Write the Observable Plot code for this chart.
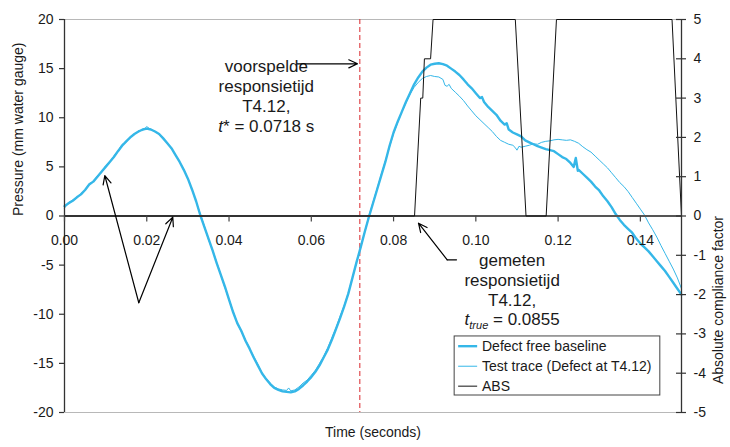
<!DOCTYPE html>
<html>
<head>
<meta charset="utf-8">
<script src="https://cdn.jsdelivr.net/npm/d3@7"></script>
<script src="https://cdn.jsdelivr.net/npm/@observablehq/plot@0.6"></script>
<style>
  html, body { margin: 0; padding: 0; background: #fff; }
  #chart svg { display: block; }
</style>
</head>
<body>
<div id="chart"></div>
<script>
// ---------------- DATA ----------------
const seriesNames = ["Defect free baseline", "Test trace (Defect at T4.12)", "ABS"];

// [time (s), pressure (mm water gauge)]
const baseline = [
  [0.000,1.0],[0.001,1.3],[0.002,1.55],[0.003,1.9],[0.004,2.2],[0.005,2.65],[0.006,3.2],[0.007,3.5],[0.008,4.0],[0.009,4.5],
  [0.010,5.0],[0.011,5.5],[0.012,6.0],[0.013,6.6],[0.014,7.15],[0.015,7.6],[0.016,8.0],[0.017,8.35],[0.018,8.6],[0.019,8.8],
  [0.020,8.9],[0.021,8.8],[0.022,8.6],[0.023,8.35],[0.024,7.9],[0.025,7.4],[0.026,6.9],[0.027,6.2],[0.028,5.5],[0.029,4.7],
  [0.030,3.8],[0.031,2.7],[0.032,1.5],[0.033,0.1],[0.034,-1.1],[0.035,-2.3],[0.036,-3.5],[0.037,-4.8],[0.038,-6.0],[0.039,-7.2],
  [0.040,-8.5],[0.041,-9.8],[0.042,-10.9],[0.043,-11.7],[0.044,-12.7],[0.045,-13.5],[0.046,-14.4],[0.047,-15.2],[0.048,-16.0],[0.049,-16.6],
  [0.050,-17.1],[0.051,-17.5],[0.052,-17.7],[0.053,-17.85],[0.054,-17.9],[0.055,-17.95],[0.056,-17.85],[0.057,-17.6],[0.058,-17.25],[0.059,-16.85],
  [0.060,-16.4],[0.061,-15.85],[0.062,-15.2],[0.063,-14.4],[0.064,-13.6],[0.065,-12.6],[0.066,-11.5],[0.067,-10.4],[0.068,-9.2],[0.069,-7.9],
  [0.070,-6.3],[0.071,-4.7],[0.072,-3.2],[0.073,-1.6],[0.074,-0.1],[0.075,1.3],[0.076,2.7],[0.077,4.1],[0.078,5.5],[0.079,7.1],
  [0.080,8.5],[0.081,9.6],[0.082,10.6],[0.083,11.6],[0.084,12.5],[0.085,13.4],[0.086,14.1],[0.087,14.7],[0.088,15.1],[0.089,15.4],
  [0.090,15.5],[0.091,15.55],[0.092,15.45],[0.093,15.3],[0.094,15.0],[0.095,14.7],[0.096,14.35],[0.097,13.9],[0.098,13.4],[0.099,13.0],
  [0.100,12.5],[0.101,12.0],[0.1015,12.1],[0.102,11.6],[0.103,11.1],[0.104,10.7],[0.105,10.3],[0.106,9.7],[0.107,9.3],[0.1075,9.45],
  [0.108,8.8],[0.109,8.5],[0.110,8.3],[0.111,8.1],[0.112,7.7],[0.113,7.5],[0.114,7.3],[0.115,7.1],[0.116,6.95],[0.117,6.8],
  [0.118,6.7],[0.119,6.6],[0.120,6.3],[0.121,6.0],[0.122,5.8],[0.123,5.4],[0.1238,5.0],[0.1243,5.9],[0.1248,4.6],[0.125,4.7],
  [0.126,4.3],[0.127,3.9],[0.128,3.5],[0.129,3.0],[0.130,2.6],[0.131,2.0],[0.132,1.5],[0.133,0.9],[0.134,0.2],[0.135,-0.4],
  [0.136,-0.9],[0.137,-1.3],[0.138,-1.7],[0.139,-2.3],[0.140,-2.8],[0.141,-3.2],[0.142,-3.6],[0.143,-4.1],[0.144,-4.6],[0.145,-5.1],
  [0.146,-5.6],[0.147,-6.2],[0.148,-6.8],[0.149,-7.4],[0.150,-8.0]
];

const testTrace = [
  [0.000,0.8],[0.001,1.4],[0.002,1.6],[0.003,1.8],[0.004,2.3],[0.005,2.6],[0.006,3.3],[0.007,3.5],[0.008,4.1],[0.009,4.4],
  [0.010,5.1],[0.011,5.5],[0.012,6.1],[0.013,6.6],[0.014,7.3],[0.015,7.5],[0.016,8.1],[0.017,8.3],[0.018,8.7],[0.019,8.7],
  [0.020,9.1],[0.021,8.8],[0.022,8.6],[0.023,8.3],[0.024,7.95],[0.025,7.4],[0.026,6.85],[0.027,6.2],[0.028,5.5],[0.029,4.75],
  [0.030,3.8],[0.031,2.7],[0.032,1.5],[0.033,0.2],[0.034,-1.0],[0.035,-2.4],[0.036,-3.5],[0.037,-4.7],[0.038,-6.0],[0.039,-7.3],
  [0.040,-8.5],[0.041,-9.7],[0.042,-10.9],[0.043,-11.8],[0.044,-12.6],[0.045,-13.5],[0.046,-14.3],[0.047,-15.1],[0.048,-16.0],[0.049,-16.5],
  [0.050,-17.0],[0.051,-17.4],[0.052,-17.6],[0.053,-17.7],[0.054,-17.75],[0.0545,-17.5],[0.055,-17.8],[0.056,-17.7],[0.057,-17.4],[0.058,-17.0],
  [0.059,-16.7],[0.060,-16.2],[0.061,-15.7],[0.062,-15.0],[0.063,-14.3],[0.064,-13.4],[0.065,-12.4],[0.066,-11.4],[0.067,-10.2],[0.068,-9.1],
  [0.069,-7.8],[0.070,-6.3],[0.071,-4.7],[0.072,-3.2],[0.073,-1.6],[0.074,0.0],[0.075,1.4],[0.076,2.8],[0.077,4.2],[0.078,5.6],
  [0.079,7.0],[0.080,8.4],[0.081,9.5],[0.082,10.6],[0.083,11.5],[0.084,12.4],[0.085,13.1],[0.086,13.6],[0.087,14.0],[0.088,14.2],
  [0.089,14.3],[0.090,14.2],[0.091,14.15],[0.092,13.9],[0.0925,13.3],[0.093,13.2],[0.0935,13.4],[0.094,13.0],[0.095,12.6],[0.096,12.2],
  [0.097,11.75],[0.098,11.2],[0.099,10.7],[0.100,10.2],[0.101,9.8],[0.102,9.4],[0.103,9.0],[0.104,8.6],[0.105,8.1],[0.106,7.7],
  [0.107,7.5],[0.108,7.3],[0.109,7.2],[0.1095,7.0],[0.110,6.7],[0.1105,7.1],[0.111,7.0],[0.112,7.1],[0.113,7.2],[0.114,7.35],
  [0.115,7.3],[0.116,7.5],[0.117,7.6],[0.118,7.65],[0.119,7.75],[0.120,7.8],[0.121,7.75],[0.122,7.7],[0.123,7.75],[0.124,7.6],
  [0.125,7.4],[0.126,7.05],[0.127,6.75],[0.128,6.5],[0.129,6.1],[0.130,5.7],[0.131,5.3],[0.132,4.9],[0.133,4.4],[0.134,3.9],
  [0.135,3.4],[0.136,3.0],[0.137,2.5],[0.138,1.9],[0.139,1.3],[0.140,0.7],[0.141,0.1],[0.142,-0.7],[0.143,-1.4],[0.144,-2.15],
  [0.145,-3.0],[0.146,-3.8],[0.147,-4.6],[0.148,-5.4],[0.149,-6.3],[0.150,-7.4]
];

// [time (s), absolute compliance factor] (right axis)
const absFactor = [
  [0.000,0],[0.0851,0],[0.0866,3],[0.0871,3],[0.0875,4],[0.0890,4],[0.0896,5],
  [0.1096,5],[0.1122,0],[0.1171,0],[0.1196,5],[0.1477,5],[0.1500,0]
];

const xTicks = [0.00, 0.02, 0.04, 0.06, 0.08, 0.10, 0.12, 0.14];
const xTickLabels = ["0.00", "0.02", "0.04", "0.06", "0.08", "0.10", "0.12", "0.14"];
const yTicks = [-20, -15, -10, -5, 0, 5, 10, 15, 20];
const absTicks = [-5, -4, -3, -2, -1, 0, 1, 2, 3, 4, 5];
const absToPressure = 4; // right axis 5 <-> left axis 20

const predictedTime = 0.0718;
const measuredTime = 0.0855;

const xTitle = "Time (seconds)";
const yTitle = "Pressure (mm water gauge)";
const y2Title = "Absolute compliance factor";

const predictedLines = ["voorspelde", "responsietijd", "T4.12,", "t* = 0.0718 s"];
const measuredLines = ["gemeten", "responsietijd", "T4.12,", "ttrue = 0.0855"];

// ---------------- LAYOUT (data units) ----------------
const predictedLabelAt = {x: 0.04906, y: 12.26};
const measuredLabelAt = {x: 0.10882, y: -7.48};
const arrows = [
  {x1: 0.05664, y1: 15.49, x2: 0.07123, y2: 15.49},
  {x1: 0.09304, y1: -4.46, x2: 0.08606, y2: -0.73},
  {x1: 0.01806, y1: -8.83, x2: 0.00980, y2: 4.12},
  {x1: 0.01806, y1: -8.83, x2: 0.02633, y2: -0.12}
];
const leader = [[0.09530, -4.46], [0.09304, -4.46]];
const legendBox = {x1: 0.09485, x2: 0.14485, y1: -12.26, y2: -18.27};
const legendYs = [-13.25, -15.29, -17.32];
const legendSwatch = {x1: 0.09582, x2: 0.10044, text: 0.1015};

// ---------------- STYLE ----------------
const blue = "#35b7e8";
const ink = "#1a1a1a";
const font = "'Liberation Sans', Arial, Helvetica, sans-serif";
const seriesStyle = [
  {stroke: blue, strokeWidth: 2.4},
  {stroke: blue, strokeWidth: 1},
  {stroke: "#111", strokeWidth: 1}
];
const legendItems = seriesNames.map((name, i) => ({name, y: legendYs[i], ...seriesStyle[i]}));

const xMax = 0.15;
const tickLen = 0.00122; // ~5px in x data units

const chart = Plot.plot({
  width: 730,
  height: 447,
  marginLeft: 64,
  marginRight: 49,
  marginTop: 19,
  marginBottom: 35,
  style: {fontFamily: font, fontSize: "14px", color: ink, background: "#fff", overflow: "visible"},
  x: {domain: [0, xMax], axis: null},
  y: {domain: [-20, 20], axis: null},
  marks: [
    // frame: top & bottom border
    Plot.ruleY([20, -20], {stroke: "#b8b8b8", strokeWidth: 1.2}),
    // predicted response time
    Plot.ruleX([predictedTime], {stroke: "#d9262b", strokeWidth: 1, strokeDasharray: "5,3"}),
    // curves
    Plot.line(baseline, {x: d => d[0], y: d => d[1], ...seriesStyle[0]}),
    Plot.line(testTrace, {x: d => d[0], y: d => d[1], ...seriesStyle[1]}),
    // zero line
    Plot.ruleY([0], {stroke: "#555", strokeWidth: 2}),
    Plot.line(absFactor, {x: d => d[0], y: d => d[1] * absToPressure, ...seriesStyle[2]}),
    // left axis
    Plot.ruleX([0], {stroke: "#333", strokeWidth: 1.3}),
    Plot.ruleY(yTicks, {x1: -tickLen, x2: 0, y: d => d, stroke: "#333", strokeWidth: 1.2}),
    Plot.text(yTicks, {x: 0, y: d => d, text: d => String(d), textAnchor: "end", dx: -11, fill: ink, fontSize: 14}),
    // right axis
    Plot.ruleX([xMax], {stroke: "#333", strokeWidth: 1.3}),
    Plot.ruleY(absTicks, {x1: xMax - tickLen, x2: xMax + tickLen, y: d => d * absToPressure, stroke: "#333", strokeWidth: 1.2}),
    Plot.text(absTicks, {x: xMax, y: d => d * absToPressure, text: d => String(d), textAnchor: "start", dx: 12, fill: ink, fontSize: 14}),
    // x axis on the zero line
    Plot.ruleX(xTicks, {x: d => d, y1: 0, y2: -0.6, stroke: "#444", strokeWidth: 1.2}),
    Plot.text(xTicks, {x: d => d, y: 0, text: (d, i) => xTickLabels[i], dy: 25, fill: ink, fontSize: 14}),
    // axis titles
    Plot.text([yTitle], {frameAnchor: "left", dx: -46, rotate: -90, fill: ink, fontSize: 14}),
    Plot.text([y2Title], {frameAnchor: "right", dx: 37, rotate: -90, fill: ink, fontSize: 14}),
    Plot.text([xTitle], {frameAnchor: "bottom", dy: 24, fill: ink, fontSize: 14}),
    // annotations
    Plot.text([predictedLines.join("\n")], {x: predictedLabelAt.x, y: predictedLabelAt.y, fontSize: 17, lineHeight: 1.17, fill: ink}),
    Plot.text([measuredLines.join("\n")], {x: measuredLabelAt.x, y: measuredLabelAt.y, fontSize: 17, lineHeight: 1.15, fill: ink}),
    Plot.line(leader, {x: d => d[0], y: d => d[1], stroke: "#000", strokeWidth: 1.2}),
    Plot.arrow(arrows, {x1: "x1", y1: "y1", x2: "x2", y2: "y2", stroke: "#000", strokeWidth: 1.2, headLength: 12, headAngle: 50}),
    // legend
    Plot.rect([legendBox], {x1: "x1", x2: "x2", y1: "y1", y2: "y2", fill: "#fff", stroke: "#444", strokeWidth: 1}),
    Plot.ruleY(legendItems, {x1: legendSwatch.x1, x2: legendSwatch.x2, y: "y", stroke: "stroke", strokeWidth: "strokeWidth"}),
    Plot.text(legendItems, {x: legendSwatch.text, y: "y", text: "name", textAnchor: "start", fill: ink, fontSize: 14})
  ]
});

// rich text for the symbols (t*, t_true)
function richify(svg) {
  const nodes = Array.from(svg.querySelectorAll("text, tspan")).filter(n => n.children.length === 0);
  for (const n of nodes) {
    const s = n.textContent;
    if (s === predictedLines[3]) {
      n.textContent = "";
      const a = document.createElementNS("http://www.w3.org/2000/svg", "tspan");
      a.setAttribute("font-style", "italic"); a.textContent = "t";
      const b = document.createElementNS("http://www.w3.org/2000/svg", "tspan");
      b.textContent = s.slice(1);
      n.append(a, b);
    } else if (s === measuredLines[3]) {
      n.textContent = "";
      const a = document.createElementNS("http://www.w3.org/2000/svg", "tspan");
      a.setAttribute("font-style", "italic"); a.textContent = "t";
      const b = document.createElementNS("http://www.w3.org/2000/svg", "tspan");
      b.setAttribute("font-style", "italic"); b.setAttribute("font-size", "11"); b.setAttribute("dy", "4");
      b.textContent = "true";
      const c = document.createElementNS("http://www.w3.org/2000/svg", "tspan");
      c.setAttribute("dy", "-4"); c.textContent = s.slice(5);
      n.append(a, b, c);
    }
  }
}
richify(chart);
document.getElementById("chart").append(chart);
</script>
</body>
</html>
